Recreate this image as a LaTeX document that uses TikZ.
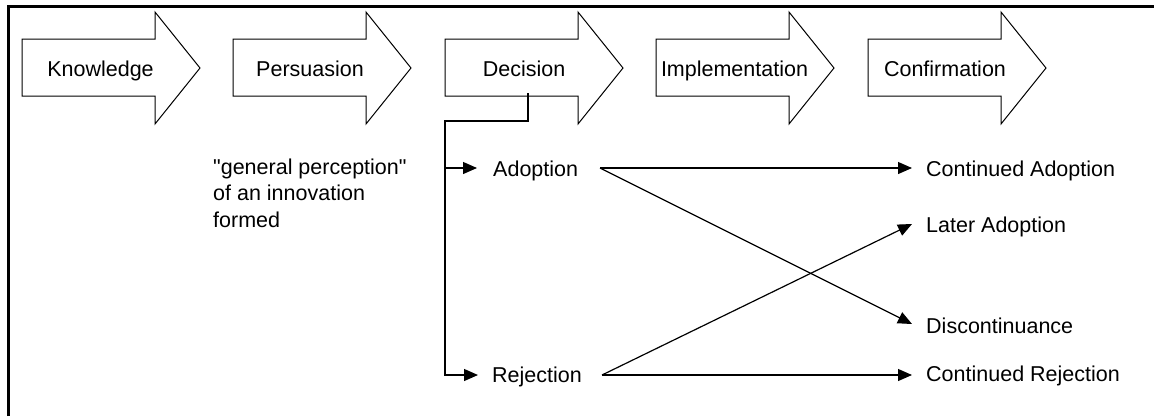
\documentclass[tikz,border=0pt]{standalone}
\usepackage{fontspec}
\newfontfamily\diagfont{Liberation Sans}
\usetikzlibrary{arrows.meta}
\begin{document}
\begin{tikzpicture}[x=1pt,y=-1pt,
  stagearrow/.style={draw=black,line width=1pt,fill=white,line join=miter},
  lbl/.style={inner sep=0pt,font=\diagfont\fontsize{21.5}{26.5}\selectfont},
  conn/.style={line width=1.2pt},
  arr/.style={conn,-{Triangle[length=14pt,width=12pt]}},
  frameline/.style={line width=3pt}]
\useasboundingbox (0,0) rectangle (1154,416);
\fill[white] (0,0) rectangle (1154,416);
\draw[frameline] (8,416) -- (8,6.5) -- (1154,6.5);
% stage arrows
\foreach \x in {22,233,445,656,868}{
  \draw[stagearrow] (\x,39) -- (\x+133,39) -- (\x+133,12) -- (\x+178,68)
    -- (\x+133,124) -- (\x+133,96) -- (\x,96) -- cycle;
}
\node[lbl,anchor=base] (know) at (100.5,76) {Knowledge};
\node[lbl,anchor=base] (pers) at (310,76) {Persuasion};
\node[lbl,anchor=base] (deci) at (524,76) {Decision};
\node[lbl,anchor=base] (impl) at (734.5,76) {Implementation};
\node[lbl,anchor=base] (conf) at (945,76) {Confirmation};
% texts
\node[lbl,anchor=base west,align=left] (gen) at (213,227)
  {"general perception"\\of an innovation\\formed};
\node[lbl,anchor=base west] (adop) at (493,176) {Adoption};
\node[lbl,anchor=base west] (reje) at (492,382) {Rejection};
\node[lbl,anchor=base west] (cada) at (926,176) {Continued Adoption};
\node[lbl,anchor=base west] (lada) at (926,232) {Later Adoption};
\node[lbl,anchor=base west] (disc) at (926,333) {Discontinuance};
\node[lbl,anchor=base west] (crej) at (926,381) {Continued Rejection};
% connector points
\coordinate (dtop) at (528,93);
\coordinate (split) at (445,121);
\coordinate (adtip) at (477,168);
\coordinate (rjtip) at (478,375);
\coordinate (adout) at (600,168);
\coordinate (rjout) at (602,375);
\coordinate (cadtip) at (912,168);
\coordinate (ladtip) at (912,224);
\coordinate (distip) at (912,324);
\coordinate (crjtip) at (912,375);
% connectors
\draw[arr] (dtop) |- (split) |- (rjtip);
\draw[arr] (split |- adtip) -- (adtip);
\draw[arr] (adout) -- (cadtip);
\draw[arr] (adout) -- (distip);
\draw[arr] (rjout) -- (ladtip);
\draw[arr] (rjout) -- (crjtip);
\end{tikzpicture}
\end{document}
